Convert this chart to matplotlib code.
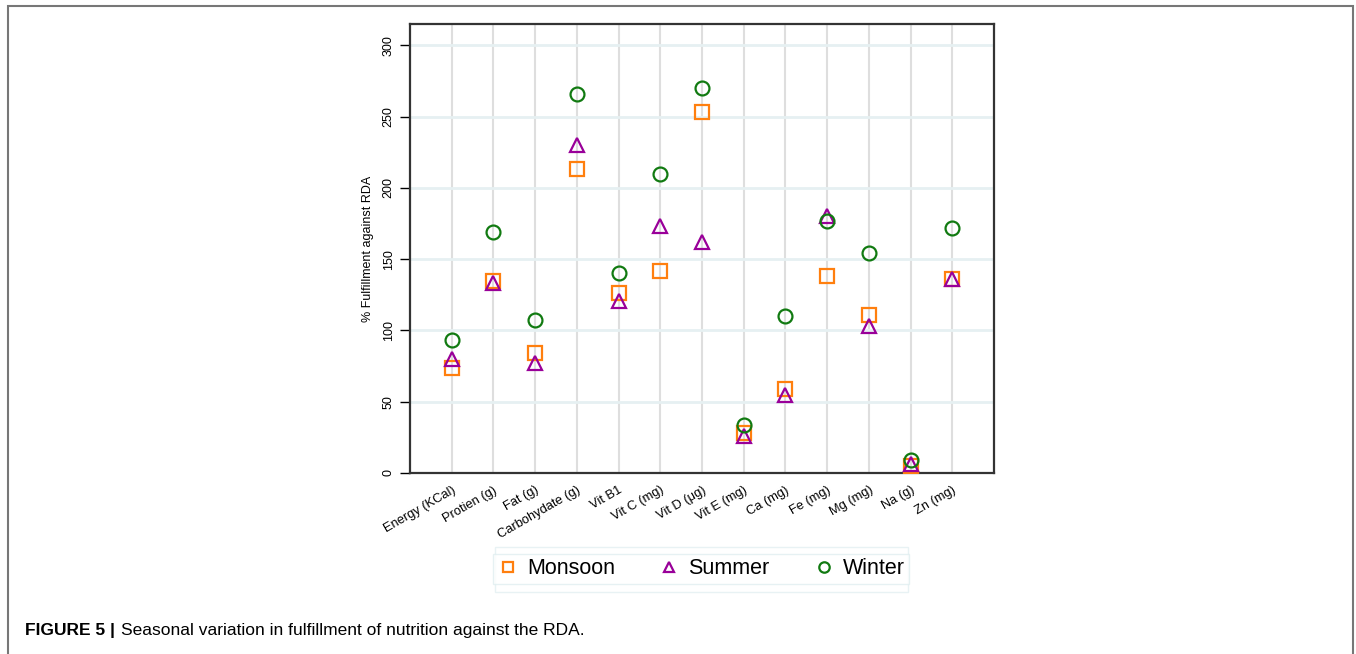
import matplotlib.pyplot as plt
from matplotlib.patches import Rectangle

plt.rcParams['font.family'] = ['Liberation Sans', 'DejaVu Sans']

nutrients = ['Energy (KCal)', 'Protien (g)', 'Fat (g)', 'Carbohydate (g)', 'Vit B1',
             'Vit C (mg)', 'Vit D (\u03bcg)', 'Vit E (mg)', 'Ca (mg)', 'Fe (mg)',
             'Mg (mg)', 'Na (g)', 'Zn (mg)']
monsoon = [74, 135, 84, 213, 126, 142, 253, 28, 59, 138, 111, 5, 136]
summer = [80, 133, 77, 230, 121, 173, 162, 26, 55, 180, 103, 6, 136]
winter = [93, 169, 107, 266, 140, 210, 270, 34, 110, 177, 154, 9, 172]
yticks = [0, 50, 100, 150, 200, 250, 300]

W, H = 1356, 654
fig = plt.figure(figsize=(W / 100, H / 100), dpi=100)
ax = fig.add_axes([410 / W, 1 - 473 / H, 584 / W, 449 / H])

x = list(range(1, len(nutrients) + 1))
ax.plot(x, monsoon, 's', ms=10, mfc='none', mec='#ff7f0e', mew=1.6, label='Monsoon', zorder=3)
ax.plot(x, summer, '^', ms=10, mfc='none', mec='#990099', mew=1.6, label='Summer', zorder=3)
ax.plot(x, winter, 'o', ms=10, mfc='none', mec='#117a11', mew=1.6, label='Winter', zorder=3)

ax.set_xlim(0, 14)
ax.set_ylim(0, 315)
ax.set_xticks(x)
ax.set_xticklabels(nutrients, rotation=30, ha='right', rotation_mode='anchor', fontsize=9.3)
ax.set_yticks(yticks)
ax.set_yticklabels([str(v) for v in yticks], rotation=90, va='center', fontsize=9)
ax.tick_params(axis='x', length=0, pad=8)
ax.tick_params(axis='y', length=7, width=1, pad=4)

for v in x:
    ax.axvline(v, color='#dedede', lw=1.5, zorder=1)
for v in yticks[1:]:
    ax.axhline(v, color='#e6f0f2', lw=2, zorder=1)
for s in ax.spines.values():
    s.set_linewidth(1.6)
    s.set_color('#333333')

ax.set_ylabel('% Fulfillment against RDA', fontsize=9, labelpad=6)

# two nested pale frames around the legend
fig.patches.append(Rectangle((495 / W, 1 - 592 / H), 413 / W, 45 / H, transform=fig.transFigure,
                             fill=False, edgecolor='#e8f2f4', lw=1))
leg = fig.legend(loc='center', bbox_to_anchor=(701 / W, 1 - 569 / H), ncol=3, fontsize=15.5,
                 frameon=True, fancybox=False, handletextpad=0.4, columnspacing=2.0,
                 borderpad=0.2, handlelength=1.0, markerscale=0.75)
leg.get_frame().set_edgecolor('#e0eef0')
leg.get_frame().set_linewidth(1)

# outer border of the figure panel
fig.patches.append(Rectangle((8 / W, -0.05), 1345 / W, 1.05 - 6 / H, transform=fig.transFigure,
                             fill=False, edgecolor='#777777', lw=1.5))

# caption: bold label, then the description right after it
cap = fig.text(25 / W, 1 - 631 / H, 'FIGURE 5 |', fontsize=12.5, fontweight='bold', va='center')
fig.canvas.draw()
bb = cap.get_window_extent()
fig.text(bb.x1 / W + 6 / W, 1 - 631 / H,
         'Seasonal variation in fulfillment of nutrition against the RDA.',
         fontsize=12.5, va='center')

fig.savefig('out.png', dpi=100)
